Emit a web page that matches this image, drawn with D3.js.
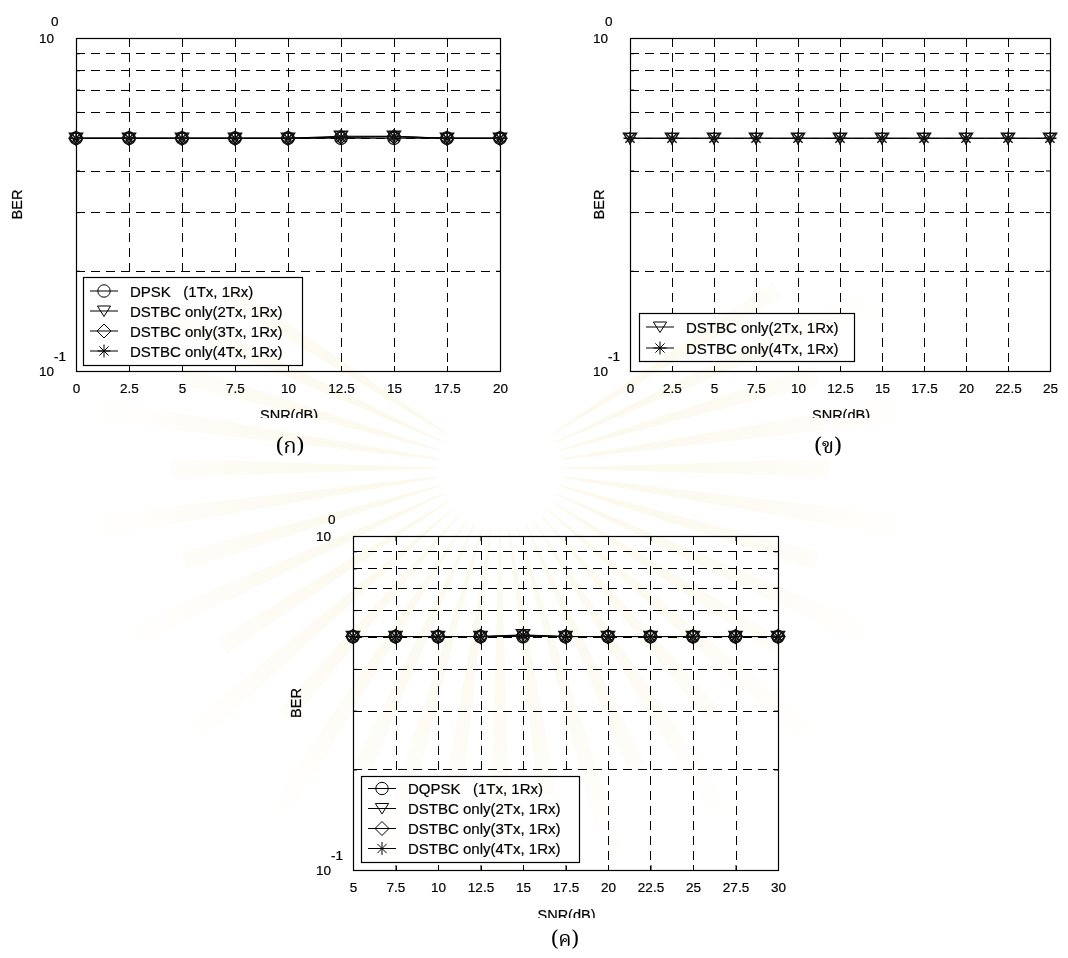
<!DOCTYPE html>
<html>
<head>
<meta charset="utf-8">
<script src="https://cdn.jsdelivr.net/npm/d3@7"></script>
<style>
  html, body { margin: 0; padding: 0; background: #fff; }
  svg { display: block; }
  text { font-family: "Liberation Sans", Arial, Helvetica, sans-serif; fill: #000; stroke: #000; stroke-width: 0.2; }
  .thai { font-family: "Noto Serif Thai", "Norasi", "Kinnari", "Noto Sans Thai", "Loma", "Garuda", "Liberation Serif", serif; stroke-width: 0; }
</style>
</head>
<body>
<svg id="fig" width="1068" height="958"></svg>
<script>
// ---- SNR sweep points (dB) ----
const snrA = [0, 2.5, 5, 7.5, 10, 12.5, 15, 17.5, 20];
const snrB = [0, 2.5, 5, 7.5, 10, 12.5, 15, 17.5, 20, 22.5, 25];
const snrC = [5, 7.5, 10, 12.5, 15, 17.5, 20, 22.5, 25, 27.5, 30];

// ---- BER, panel (ก) ----
const berA_dpsk = [0.5, 0.5, 0.5, 0.5, 0.5, 0.5, 0.5, 0.5, 0.5];
const berA_2tx  = [0.5, 0.5, 0.5, 0.5, 0.5, 0.507, 0.507, 0.5, 0.5];
const berA_3tx  = [0.5, 0.5, 0.5, 0.5, 0.5, 0.504, 0.505, 0.5, 0.5];
const berA_4tx  = [0.5, 0.5, 0.5, 0.5, 0.5, 0.503, 0.506, 0.5, 0.5];

// ---- BER, panel (ข) ----
const berB_2tx = [0.5, 0.5, 0.5, 0.5, 0.5, 0.5, 0.5, 0.5, 0.5, 0.5, 0.5];
const berB_4tx = [0.5, 0.5, 0.5, 0.5, 0.5, 0.5, 0.5, 0.5, 0.5, 0.5, 0.5];

// ---- BER, panel (ค) ----
const berC_dqpsk = [0.5, 0.5, 0.5, 0.5, 0.5, 0.5, 0.5, 0.5, 0.5, 0.5, 0.5];
const berC_2tx   = [0.5, 0.5, 0.5, 0.5, 0.506, 0.5, 0.5, 0.5, 0.5, 0.5, 0.5];
const berC_3tx   = [0.5, 0.5, 0.5, 0.5, 0.502, 0.5, 0.5, 0.5, 0.5, 0.5, 0.5];
const berC_4tx   = [0.5, 0.5, 0.5, 0.5, 0.504, 0.5, 0.5, 0.5, 0.5, 0.5, 0.5];

// ---- axis ranges / ticks ----
const berDomain = [0.1, 1];
const berMinor = [0.2, 0.3, 0.4, 0.5, 0.6, 0.7, 0.8, 0.9];
const berMajor = [{ v: 1, exp: "0" }, { v: 0.1, exp: "-1" }];

// ---- labels ----
const labelsA = ["DPSK   (1Tx, 1Rx)", "DSTBC only(2Tx, 1Rx)", "DSTBC only(3Tx, 1Rx)", "DSTBC only(4Tx, 1Rx)"];
const labelsB = ["DSTBC only(2Tx, 1Rx)", "DSTBC only(4Tx, 1Rx)"];
const labelsC = ["DQPSK   (1Tx, 1Rx)", "DSTBC only(2Tx, 1Rx)", "DSTBC only(3Tx, 1Rx)", "DSTBC only(4Tx, 1Rx)"];
const captions = ["(ก)", "(ข)", "(ค)"];
const xTitle = "SNR(dB)";
const yTitle = "BER";

const svg = d3.select("#fig");
const defs = svg.append("defs");

// marker outlines, centred on (0,0)
function markerPath(type) {
  const p = d3.path();
  if (type === "circle") {
    p.moveTo(6.2, 0); p.arc(0, 0, 6.2, 0, 2 * Math.PI);
  } else if (type === "tri") {
    p.moveTo(-6.6, -5); p.lineTo(6.6, -5); p.lineTo(0, 5.5); p.closePath();
  } else if (type === "diamond") {
    p.moveTo(0, -7); p.lineTo(7, 0); p.lineTo(0, 7); p.lineTo(-7, 0); p.closePath();
  } else if (type === "star") {
    p.moveTo(0, -6.5); p.lineTo(0, 6.5);
    p.moveTo(-6.5, 0); p.lineTo(6.5, 0);
    p.moveTo(-4.6, -4.6); p.lineTo(4.6, 4.6);
    p.moveTo(-4.6, 4.6); p.lineTo(4.6, -4.6);
  }
  return p.toString();
}

function drawPanel(cfg, idx) {
  const g = svg.append("g");
  const x = d3.scaleLinear().domain(d3.extent(cfg.snr)).range([cfg.left, cfg.right]);
  const y = d3.scaleLog().domain(berDomain).range([cfg.bottom, cfg.top]);

  // dashed grid
  const grid = g.append("g").attr("stroke", "#000").attr("stroke-width", 1)
    .attr("stroke-dasharray", "9,6").attr("fill", "none");
  grid.selectAll("line.h").data(berMinor).join("line")
    .attr("x1", cfg.left).attr("x2", cfg.right)
    .attr("y1", d => Math.round(y(d)) + 0.5).attr("y2", d => Math.round(y(d)) + 0.5);
  grid.selectAll("line.v").data(cfg.snr.slice(1, -1)).join("line")
    .attr("y1", cfg.top).attr("y2", cfg.bottom)
    .attr("x1", d => Math.round(x(d)) + 0.5).attr("x2", d => Math.round(x(d)) + 0.5);

  // inward tick marks on all four sides
  const tickStyle = sel => sel.call(s => s.select(".domain").remove())
    .call(s => s.selectAll(".tick line").attr("stroke", "#000"));
  g.append("g").attr("transform", `translate(0,${cfg.bottom})`)
    .call(d3.axisBottom(x).tickValues(cfg.snr).tickSize(-5).tickPadding(12)
      .tickFormat(d => String(d)))
    .call(tickStyle)
    .call(s => s.selectAll(".tick text").attr("font-size", 13.5)
      .attr("font-family", "'Liberation Sans', Arial, sans-serif").attr("fill", "#000"));
  g.append("g").attr("transform", `translate(0,${cfg.top})`)
    .call(d3.axisTop(x).tickValues(cfg.snr).tickSize(-5).tickFormat(""))
    .call(tickStyle);
  g.append("g").attr("transform", `translate(${cfg.left},0)`)
    .call(d3.axisLeft(y).tickValues(berMinor).tickSize(-4).tickFormat(""))
    .call(tickStyle);
  g.append("g").attr("transform", `translate(${cfg.right},0)`)
    .call(d3.axisRight(y).tickValues(berMinor).tickSize(-4).tickFormat(""))
    .call(tickStyle);

  // axes box
  g.append("rect")
    .attr("x", cfg.left + 0.5).attr("y", cfg.top + 0.5)
    .attr("width", cfg.right - cfg.left).attr("height", cfg.bottom - cfg.top)
    .attr("fill", "none").attr("stroke", "#000").attr("stroke-width", 1.2);

  // y tick labels: 10 with exponent
  berMajor.forEach(t => {
    const yy = y(t.v);
    g.append("text").attr("x", cfg.left - 22).attr("y", yy + (t.v === 1 ? 4.5 : 5))
      .attr("text-anchor", "end").attr("font-size", 13.5).text("10");
    g.append("text").attr("x", cfg.left - (t.v === 1 ? 25 : 22))
      .attr("y", yy + (t.v === 1 ? -12 : -10))
      .attr("text-anchor", "start").attr("font-size", 13.5).text(t.exp);
  });

  // curves
  const line = d3.line().x(d => x(d[0])).y(d => y(d[1]));
  cfg.series.forEach(s => {
    const pts = cfg.snr.map((v, i) => [v, s.ber[i]]);
    g.append("path").datum(pts).attr("d", line)
      .attr("fill", "none").attr("stroke", "#000").attr("stroke-width", 1);
  });
  cfg.series.forEach(s => {
    const pts = cfg.snr.map((v, i) => [v, s.ber[i]]);
    g.append("g").selectAll("path").data(pts).join("path")
      .attr("transform", d => `translate(${x(d[0])},${y(d[1])})`)
      .attr("d", markerPath(s.marker))
      .attr("fill", "none").attr("stroke", "#111").attr("stroke-width", 1.4);
  });

  // legend
  const L = cfg.legend;
  const lg = g.append("g").attr("transform", `translate(${L.x},${L.y})`);
  lg.append("rect").attr("x", 0.5).attr("y", 0.5).attr("width", L.w).attr("height", L.h)
    .attr("fill", "#fff").attr("stroke", "#000").attr("stroke-width", 1.2);
  cfg.series.forEach((s, i) => {
    const cy = L.first + i * L.step;
    lg.append("line").attr("x1", 7).attr("x2", 35).attr("y1", cy).attr("y2", cy)
      .attr("stroke", "#000").attr("stroke-width", 1);
    lg.append("path").attr("transform", `translate(21,${cy})`).attr("d", markerPath(s.marker))
      .attr("fill", "none").attr("stroke", "#000").attr("stroke-width", 1);
    lg.append("text").attr("x", 47).attr("y", cy + 5.5).attr("font-size", 15)
      .attr("xml:space", "preserve").style("white-space", "pre").text(s.label);
  });

  // axis titles (the lower edge of the x title is trimmed by the page crop)
  const cx = (cfg.left + cfg.right) / 2;
  const clipId = "xclip" + idx;
  defs.append("clipPath").attr("id", clipId).append("rect")
    .attr("x", cx - 60).attr("y", cfg.xTitleClip - 30).attr("width", 120).attr("height", 30);
  g.append("text").attr("x", cx + 1).attr("y", cfg.xTitleClip + 2)
    .attr("text-anchor", "middle").attr("font-size", 14.5)
    .attr("clip-path", `url(#${clipId})`).text(xTitle);
  g.append("text").attr("transform", `translate(${cfg.yTitleX},${(cfg.top + cfg.bottom) / 2}) rotate(-90)`)
    .attr("text-anchor", "middle").attr("font-size", 14.5).text(yTitle);

  // caption
  g.append("text").attr("class", "thai").attr("x", cfg.capX).attr("y", cfg.capY)
    .attr("text-anchor", "middle").attr("font-size", cfg.capSize).text(cfg.caption);
}

const panels = [
  {
    snr: snrA, left: 76, right: 500, top: 38, bottom: 371,
    series: [
      { ber: berA_dpsk, marker: "circle", label: labelsA[0] },
      { ber: berA_2tx, marker: "tri", label: labelsA[1] },
      { ber: berA_3tx, marker: "diamond", label: labelsA[2] },
      { ber: berA_4tx, marker: "star", label: labelsA[3] }
    ],
    legend: { x: 83, y: 277, w: 219, h: 88, first: 14, step: 20 },
    xTitleClip: 418, yTitleX: 22, caption: captions[0], capX: 290, capY: 453, capSize: 22
  },
  {
    snr: snrB, left: 630, right: 1050, top: 38, bottom: 371,
    series: [
      { ber: berB_2tx, marker: "tri", label: labelsB[0] },
      { ber: berB_4tx, marker: "star", label: labelsB[1] }
    ],
    legend: { x: 639, y: 313, w: 215, h: 48, first: 14, step: 21 },
    xTitleClip: 418, yTitleX: 604, caption: captions[1], capX: 828, capY: 453, capSize: 22
  },
  {
    snr: snrC, left: 353, right: 778, top: 536, bottom: 870,
    series: [
      { ber: berC_dqpsk, marker: "circle", label: labelsC[0] },
      { ber: berC_2tx, marker: "tri", label: labelsC[1] },
      { ber: berC_3tx, marker: "diamond", label: labelsC[2] },
      { ber: berC_4tx, marker: "star", label: labelsC[3] }
    ],
    legend: { x: 361, y: 776, w: 218, h: 86, first: 12.5, step: 20 },
    xTitleClip: 918, yTitleX: 301, caption: captions[2], capX: 565, capY: 946, capSize: 21
  }
];

panels.forEach(drawPanel);

// very faint sunburst emblem printed across the page
const grad = defs.append("radialGradient").attr("id", "rayFade")
  .attr("gradientUnits", "userSpaceOnUse").attr("cx", 500).attr("cy", 468).attr("r", 420);
grad.append("stop").attr("offset", "0.12").attr("stop-color", "#fcf8ea");
grad.append("stop").attr("offset", "0.6").attr("stop-color", "#fdfbf3");
grad.append("stop").attr("offset", "1").attr("stop-color", "#ffffff");
const wm = svg.append("g").style("mix-blend-mode", "multiply").attr("pointer-events", "none");
const nRays = 44;
d3.range(nRays).forEach(i => {
  const a = (i / nRays) * 2 * Math.PI;
  // keep the halo to the lower part of the page
  if (Math.cos(a) > 0.55) return;
  const half = 0.028;
  const rIn = 62;
  const rOut = i % 2 ? 330 : 410;
  const pt = (ang, r) => [500 + r * Math.sin(ang), 468 - r * Math.cos(ang)];
  const p = d3.path();
  const p1 = pt(a - half * 0.35, rIn), p2 = pt(a - half, rOut),
        p3 = pt(a + half, rOut), p4 = pt(a + half * 0.35, rIn);
  p.moveTo(...p1); p.lineTo(...p2); p.lineTo(...p3); p.lineTo(...p4); p.closePath();
  wm.append("path").attr("d", p.toString()).attr("fill", "url(#rayFade)");
});
</script>
</body>
</html>
